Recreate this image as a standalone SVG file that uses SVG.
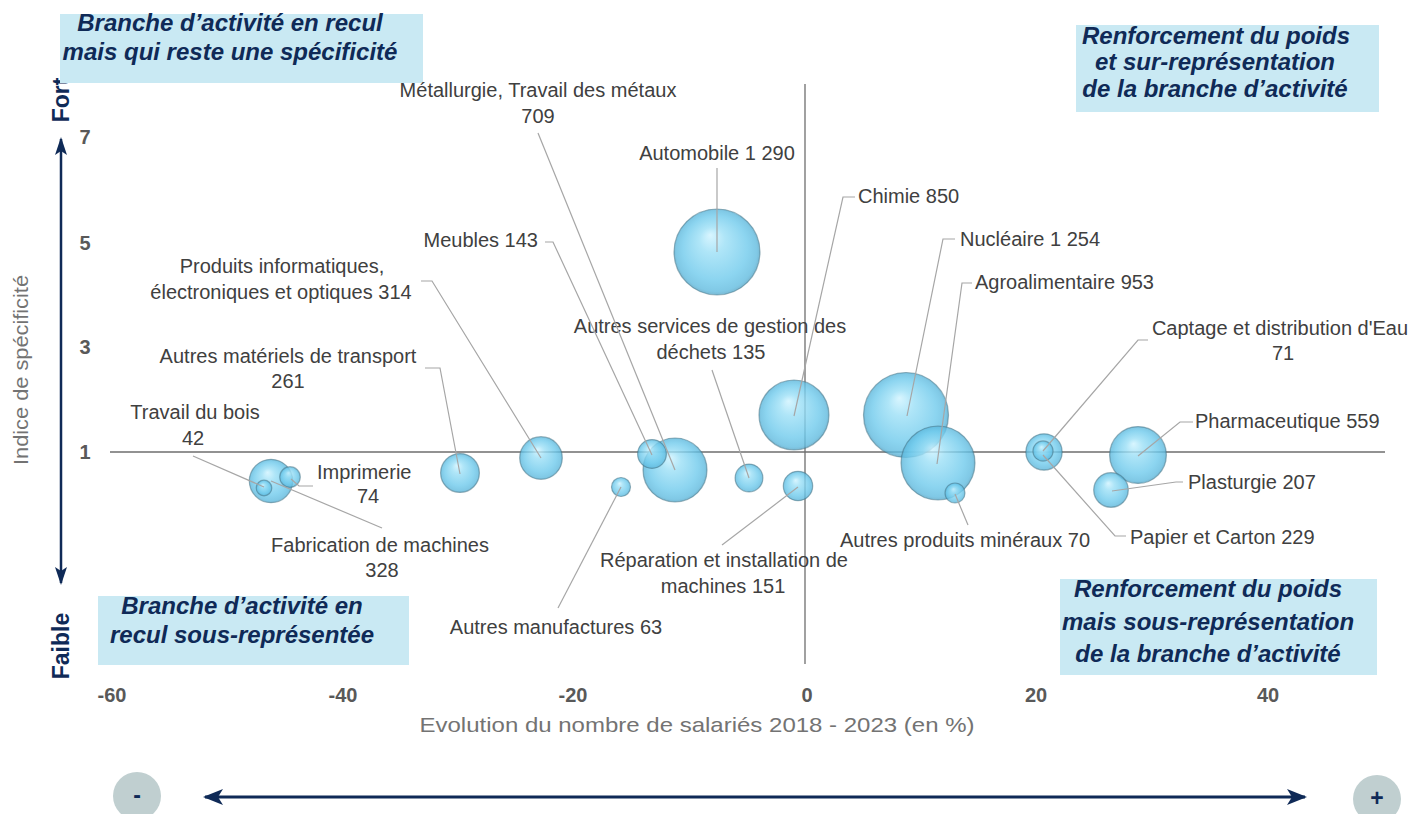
<svg xmlns="http://www.w3.org/2000/svg" width="1411" height="814" viewBox="0 0 1411 814">
<style>
.lbl{font-family:"Liberation Sans",Arial,sans-serif;font-size:20px;fill:#404040}
.tick{font-family:"Liberation Sans",Arial,sans-serif;font-size:20px;font-weight:bold;fill:#595959}
.ttl{font-family:"Liberation Sans",Arial,sans-serif;font-size:21px;fill:#737373}
.quad{font-family:"Liberation Sans",Arial,sans-serif;font-size:24px;font-weight:bold;font-style:italic;fill:#0f2a57}
.side{font-family:"Liberation Sans",Arial,sans-serif;font-size:23px;font-weight:bold;fill:#0f2a57}
.qbox{fill:#c9e9f3}
.lead{stroke:#a6a6a6;stroke-width:1.2;fill:none}
.axis{stroke:#6e6e6e;stroke-width:1.3;fill:none}
.bub{fill:url(#bg);fill-opacity:0.8;stroke:#3f6f82;stroke-opacity:0.5;stroke-width:1.2}
.navy{stroke:#0f2a57;fill:none}
.sign{fill:#c0cfd0}
</style>
<defs>
<radialGradient id="bg" cx="0.5" cy="0.5" r="0.5" fx="0.42" fy="0.3">
<stop offset="0" stop-color="#cff3ff"/>
<stop offset="0.3" stop-color="#9bdff6"/>
<stop offset="0.75" stop-color="#6fcaec"/>
<stop offset="0.94" stop-color="#60bbdf"/>
<stop offset="1" stop-color="#58a7c8"/>
</radialGradient>
<marker id="ahH" viewBox="0 0 20 16" refX="18" refY="8" markerWidth="20" markerHeight="16" markerUnits="userSpaceOnUse" orient="auto-start-reverse">
<path d="M0,0 L20,8 L0,16 L5,8 z" fill="#0f2a57"/>
</marker>
<marker id="ahV" viewBox="0 0 18 12" refX="16" refY="6" markerWidth="18" markerHeight="12" markerUnits="userSpaceOnUse" orient="auto-start-reverse">
<path d="M0,0 L18,6 L0,12 L4,6 z" fill="#0f2a57"/>
</marker>
</defs>
<rect width="1411" height="814" fill="#ffffff"/>

<!-- axes -->
<g id="axes">
<line class="axis" x1="110" y1="452" x2="1385" y2="452"/>
<line class="axis" x1="805" y1="84" x2="805" y2="664"/>
<text class="tick" x="85" y="144" text-anchor="middle">7</text>
<text class="tick" x="85" y="250" text-anchor="middle">5</text>
<text class="tick" x="85" y="354" text-anchor="middle">3</text>
<text class="tick" x="85" y="459" text-anchor="middle">1</text>
<text class="tick" x="112" y="702" text-anchor="middle">-60</text>
<text class="tick" x="343" y="702" text-anchor="middle">-40</text>
<text class="tick" x="573" y="702" text-anchor="middle">-20</text>
<text class="tick" x="807" y="702" text-anchor="middle">0</text>
<text class="tick" x="1036" y="702" text-anchor="middle">20</text>
<text class="tick" x="1268" y="702" text-anchor="middle">40</text>
<text class="ttl" x="697" y="732" text-anchor="middle" textLength="555" lengthAdjust="spacingAndGlyphs">Evolution du nombre de salariés 2018 - 2023 (en %)</text>
<text class="ttl" transform="translate(28,370) rotate(-90)" text-anchor="middle" textLength="190" lengthAdjust="spacingAndGlyphs">Indice de spécificité</text>
</g>

<!-- side arrows -->
<g id="side-vertical">
<text class="side" transform="translate(69,100) rotate(-90)" text-anchor="middle">Fort</text>
<text class="side" transform="translate(69,646) rotate(-90)" text-anchor="middle">Faible</text>
<line class="navy" stroke-width="2.5" x1="61" y1="139" x2="61" y2="583" marker-start="url(#ahV)" marker-end="url(#ahV)"/>
</g>
<g id="side-horizontal">
<line class="navy" stroke-width="3" x1="205" y1="797" x2="1305" y2="797" marker-start="url(#ahH)" marker-end="url(#ahH)"/>
<circle class="sign" cx="137" cy="796" r="24"/>
<text class="side" x="137" y="803" text-anchor="middle" font-size="20">-</text>
<circle class="sign" cx="1377" cy="799" r="24"/>
<text class="side" x="1377" y="806" text-anchor="middle" font-size="20">+</text>
</g>

<!-- quadrant boxes -->
<g id="quad-top-left">
<rect class="qbox" x="60" y="14" width="363" height="69"/>
<text class="quad" x="230" y="31" text-anchor="middle">Branche d’activité en recul</text>
<text class="quad" x="230" y="60" text-anchor="middle">mais qui reste une spécificité</text>
</g>
<g id="quad-top-right">
<rect class="qbox" x="1076" y="25" width="303" height="87"/>
<text class="quad" x="1216" y="44" text-anchor="middle">Renforcement du poids</text>
<text class="quad" x="1215" y="70" text-anchor="middle">et sur-représentation</text>
<text class="quad" x="1215" y="97" text-anchor="middle">de la branche d’activité</text>
</g>
<g id="quad-bottom-left">
<rect class="qbox" x="98" y="596" width="311" height="69"/>
<text class="quad" x="242" y="614" text-anchor="middle">Branche d’activité en</text>
<text class="quad" x="242" y="643" text-anchor="middle">recul sous-représentée</text>
</g>
<g id="quad-bottom-right">
<rect class="qbox" x="1060" y="579" width="317" height="96"/>
<text class="quad" x="1208" y="597" text-anchor="middle">Renforcement du poids</text>
<text class="quad" x="1208" y="630" text-anchor="middle">mais sous-représentation</text>
<text class="quad" x="1208" y="662" text-anchor="middle">de la branche d’activité</text>
</g>

<!-- bubbles -->
<g id="automobile"><circle class="bub" cx="717" cy="252" r="43"/><text class="lbl" x="717" y="160" text-anchor="middle">Automobile 1 290</text></g>
<g id="nucleaire"><circle class="bub" cx="906" cy="415" r="42.5"/><text class="lbl" x="960" y="246">Nucléaire 1 254</text></g>
<g id="agroalimentaire"><circle class="bub" cx="938" cy="463" r="37"/><text class="lbl" x="975" y="289">Agroalimentaire 953</text></g>
<g id="chimie"><circle class="bub" cx="794" cy="415" r="35"/><text class="lbl" x="858" y="203">Chimie 850</text></g>
<g id="metallurgie"><circle class="bub" cx="675" cy="470" r="32"/><text class="lbl" x="538" y="97" text-anchor="middle">Métallurgie, Travail des métaux</text><text class="lbl" x="538" y="123" text-anchor="middle">709</text></g>
<g id="pharmaceutique"><circle class="bub" cx="1138" cy="455" r="28.4"/><text class="lbl" x="1195" y="428">Pharmaceutique 559</text></g>
<g id="fabrication-machines"><circle class="bub" cx="271" cy="481" r="21.7"/><text class="lbl" x="380" y="552" text-anchor="middle">Fabrication de machines</text><text class="lbl" x="382" y="577" text-anchor="middle">328</text></g>
<g id="produits-informatiques"><circle class="bub" cx="541" cy="458" r="21.3"/><text class="lbl" x="282" y="273" text-anchor="middle">Produits informatiques,</text><text class="lbl" x="281" y="299" text-anchor="middle">électroniques et optiques 314</text></g>
<g id="autres-materiels-transport"><circle class="bub" cx="460" cy="473" r="19.4"/><text class="lbl" x="288" y="363" text-anchor="middle">Autres matériels de transport</text><text class="lbl" x="288" y="388" text-anchor="middle">261</text></g>
<g id="papier-carton"><circle class="bub" cx="1044" cy="452" r="18.2"/><text class="lbl" x="1130" y="544">Papier et Carton 229</text></g>
<g id="plasturgie"><circle class="bub" cx="1111" cy="490" r="17.3"/><text class="lbl" x="1188" y="489">Plasturgie 207</text></g>
<g id="reparation-machines"><circle class="bub" cx="798" cy="486" r="14.7"/><text class="lbl" x="724" y="567" text-anchor="middle">Réparation et installation de</text><text class="lbl" x="723" y="593" text-anchor="middle">machines 151</text></g>
<g id="meubles"><circle class="bub" cx="652" cy="454" r="14.4"/><text class="lbl" x="538" y="247" text-anchor="end">Meubles 143</text></g>
<g id="gestion-dechets"><circle class="bub" cx="749" cy="478" r="13.9"/><text class="lbl" x="710" y="333" text-anchor="middle">Autres services de gestion des</text><text class="lbl" x="711" y="359" text-anchor="middle">déchets 135</text></g>
<g id="imprimerie"><circle class="bub" cx="290" cy="477" r="10.3"/><text class="lbl" x="317" y="479">Imprimerie</text><text class="lbl" x="368" y="503" text-anchor="middle">74</text></g>
<g id="captage-eau"><circle class="bub" cx="1043" cy="451" r="10.1"/><text class="lbl" x="1280" y="335" text-anchor="middle">Captage et distribution d'Eau</text><text class="lbl" x="1283" y="360" text-anchor="middle">71</text></g>
<g id="autres-produits-mineraux"><circle class="bub" cx="955" cy="493" r="10"/><text class="lbl" x="965" y="547" text-anchor="middle">Autres produits minéraux 70</text></g>
<g id="autres-manufactures"><circle class="bub" cx="621" cy="487" r="9.5"/><text class="lbl" x="556" y="634" text-anchor="middle">Autres manufactures 63</text></g>
<g id="travail-bois"><circle class="bub" cx="264" cy="488" r="7.8"/><text class="lbl" x="195" y="419" text-anchor="middle">Travail du bois</text><text class="lbl" x="193" y="445" text-anchor="middle">42</text></g>

<!-- connectors (leader lines) -->
<g id="connectors">
<polyline class="lead" points="538,133 675,470"/>
<polyline class="lead" points="717,168 717,252"/>
<polyline class="lead" points="855,197 843,197 794,416"/>
<polyline class="lead" points="545,242 553,242 652,455"/>
<polyline class="lead" points="955,239 943,239 907,416"/>
<polyline class="lead" points="421,281 432,281 541,458"/>
<polyline class="lead" points="972,283 962,283 937,464"/>
<polyline class="lead" points="712,370 749,478"/>
<polyline class="lead" points="1148,340 1138,340 1043,451"/>
<polyline class="lead" points="425,368 440,368 460,474"/>
<polyline class="lead" points="193,456 264,487"/>
<polyline class="lead" points="1193,422 1180,422 1138,456"/>
<polyline class="lead" points="313,486 299,486 291,479"/>
<polyline class="lead" points="1183,482 1176,482 1112,491"/>
<polyline class="lead" points="1126,536 1115,536 1043,455"/>
<polyline class="lead" points="968,525 955,494"/>
<polyline class="lead" points="382,528 271,481"/>
<polyline class="lead" points="722,545 798,487"/>
<polyline class="lead" points="558,608 621,487"/>
</g>
</svg>
